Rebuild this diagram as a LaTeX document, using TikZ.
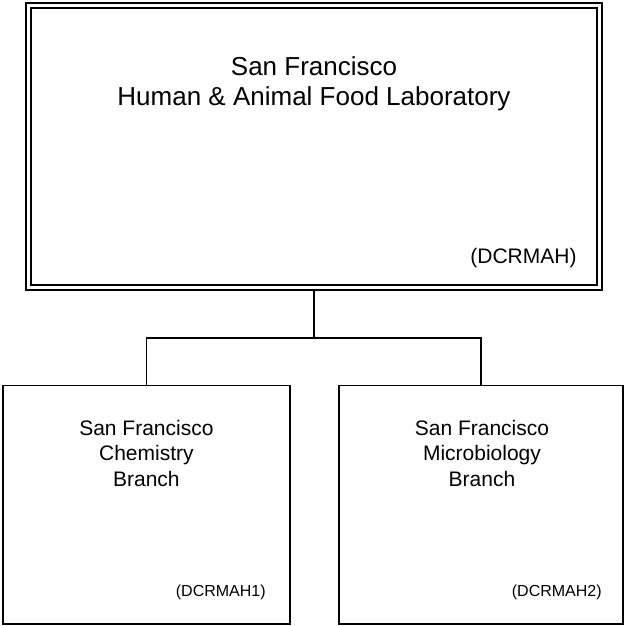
\documentclass[tikz,border=0pt]{standalone}
\usepackage{fontspec}
\setmainfont{Liberation Sans}
\tikzset{
  mainbox/.style={draw, double, line width=2pt, double distance=3pt, outer sep=3.5pt, inner sep=0pt},
  branchbox/.style={draw, line width=1.8pt, inner sep=0pt},
  boxname/.style={anchor=north, align=center, inner sep=0pt},
  boxcode/.style={anchor=base, inner sep=0pt},
  link/.style={line width=1.5pt},
}
\begin{document}
\begin{tikzpicture}[x=1pt, y=-1pt]
\useasboundingbox (0, 0) rectangle (625, 626);

% laboratory
\node [mainbox, minimum width=570.5pt, minimum height=282.3pt] (lab) at (313.75, 146.35) {};
\node [boxname, font=\fontsize{26}{30.5}\selectfont] (labname) at (314, 56) {San Francisco\\Human \& Animal Food Laboratory};
\node [boxcode, font=\fontsize{21}{25}\selectfont] (labcode) at (523.5, 263) {(DCRMAH)};

% branches
\node [branchbox, minimum width=287.2pt, minimum height=238.6pt] (chem) at (146.4, 504.7) {};
\node [boxname, font=\fontsize{21}{25.5}\selectfont] (chemname) at (146.4, 419.7) {San Francisco\\Chemistry\\Branch};
\node [boxcode, font=\fontsize{16}{19}\selectfont] (chemcode) at (220.8, 596) {(DCRMAH1)};

\node [branchbox, minimum width=284pt, minimum height=238.6pt] (micro) at (481, 504.7) {};
\node [boxname, font=\fontsize{21}{25.5}\selectfont] (microname) at (482, 419.7) {San Francisco\\Microbiology\\Branch};
\node [boxcode, font=\fontsize{16}{19}\selectfont] (microcode) at (556.8, 596) {(DCRMAH2)};

\draw [link] (lab.south) -- ++(0, 47) coordinate (fork);
\draw [link] (fork) -| (chem.north);
\draw [link] (fork) -| (micro.north);
\end{tikzpicture}
\end{document}
